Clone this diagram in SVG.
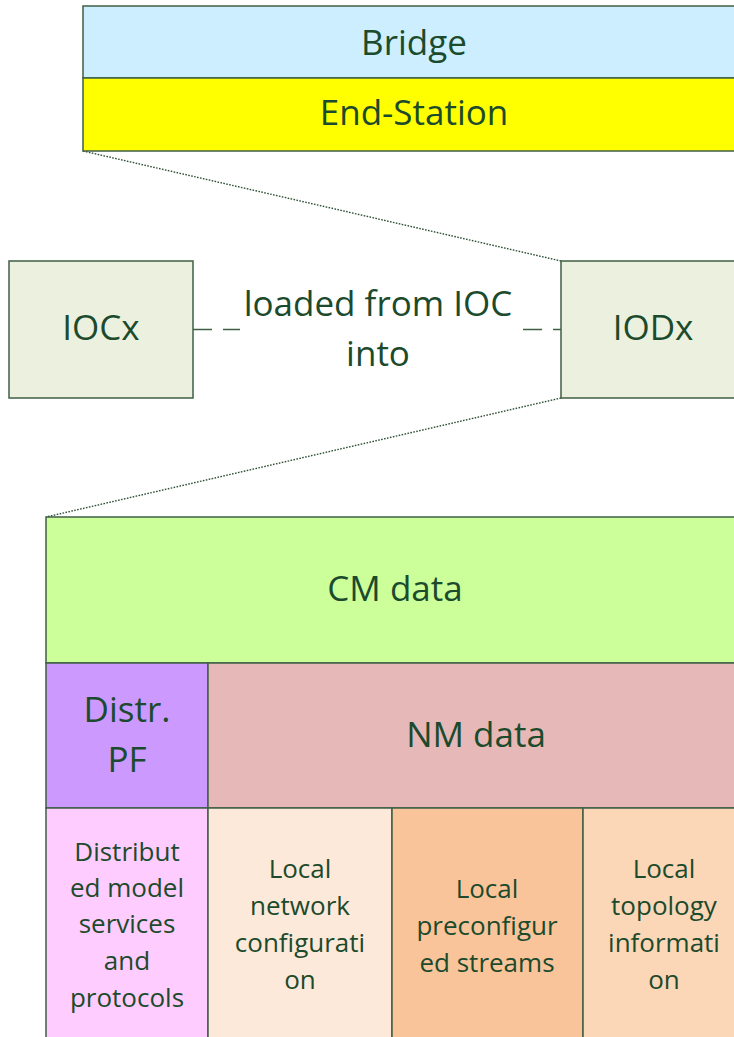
<svg xmlns="http://www.w3.org/2000/svg" width="734" height="1037" viewBox="0 0 734 1037">
  <style>
    .box { stroke: #3f5f45; stroke-width: 1.5; }
    .t { font-family: "Open Sans", "Liberation Sans", sans-serif; fill: #1b4a2c; text-anchor: middle; }
    .big { font-size: 35px; }
    .small { font-size: 26px; }
    .zoom { fill: none; stroke: #2f4f35; stroke-width: 1.4; stroke-dasharray: 1.6 1.4; }
    .assoc { fill: none; stroke: #3f5f45; stroke-width: 1.5; stroke-dasharray: 19 11; }
  </style>

  <!-- connectors -->
  <g id="connectors">
    <line class="zoom" x1="83" y1="151" x2="561" y2="261"/>
    <line class="zoom" x1="561" y1="398" x2="46" y2="517"/>
    <line class="assoc" x1="193" y1="329.5" x2="561" y2="329.5"/>
    <rect x="240" y="282" width="281" height="95" fill="#ffffff"/>
    <text class="t big" x="378" y="316">loaded from IOC</text>
    <text class="t big" x="378" y="366">into</text>
  </g>

  <!-- element type stack -->
  <g id="bridge">
    <rect class="box" x="83" y="6" width="663" height="72" fill="#cceeff"/>
    <text class="t big" x="414" y="55">Bridge</text>
  </g>
  <g id="end-station">
    <rect class="box" x="83" y="78" width="663" height="73" fill="#ffff00"/>
    <text class="t big" x="414" y="125">End-Station</text>
  </g>

  <!-- object classes -->
  <g id="iocx">
    <rect class="box" x="9" y="261" width="184" height="137" fill="#ebf1de"/>
    <text class="t big" x="101" y="340">IOCx</text>
  </g>
  <g id="iodx">
    <rect class="box" x="561" y="261" width="185" height="137" fill="#ebf1de"/>
    <text class="t big" x="653" y="340">IODx</text>
  </g>

  <!-- data breakdown -->
  <g id="cm-data">
    <rect class="box" x="46" y="517" width="700" height="146" fill="#ccff99"/>
    <text class="t big" x="395" y="601">CM data</text>
  </g>
  <g id="distr-pf">
    <rect class="box" x="46" y="663" width="162" height="145" fill="#cc99ff"/>
    <text class="t big" x="127" y="722">Distr.</text>
    <text class="t big" x="127" y="772">PF</text>
  </g>
  <g id="nm-data">
    <rect class="box" x="208" y="663" width="538" height="145" fill="#e6b8b7"/>
    <text class="t big" x="476" y="747">NM data</text>
  </g>
  <g id="distributed-services">
    <rect class="box" x="46" y="808" width="162" height="240" fill="#ffccff"/>
    <text class="t small" x="127" y="861">Distribut</text>
    <text class="t small" x="127" y="897">ed model</text>
    <text class="t small" x="127" y="933">services</text>
    <text class="t small" x="127" y="970">and</text>
    <text class="t small" x="127" y="1007">protocols</text>
  </g>
  <g id="local-network-config">
    <rect class="box" x="208" y="808" width="184" height="240" fill="#fde9d9"/>
    <text class="t small" x="300" y="878">Local</text>
    <text class="t small" x="300" y="915">network</text>
    <text class="t small" x="300" y="952">configurati</text>
    <text class="t small" x="300" y="989">on</text>
  </g>
  <g id="local-preconfigured-streams">
    <rect class="box" x="392" y="808" width="191" height="240" fill="#f9c49a"/>
    <text class="t small" x="487" y="898">Local</text>
    <text class="t small" x="487" y="935">preconfigur</text>
    <text class="t small" x="487" y="972">ed streams</text>
  </g>
  <g id="local-topology">
    <rect class="box" x="583" y="808" width="163" height="240" fill="#fbd6b7"/>
    <text class="t small" x="664" y="878">Local</text>
    <text class="t small" x="664" y="915">topology</text>
    <text class="t small" x="664" y="952">informati</text>
    <text class="t small" x="664" y="989">on</text>
  </g>
</svg>
